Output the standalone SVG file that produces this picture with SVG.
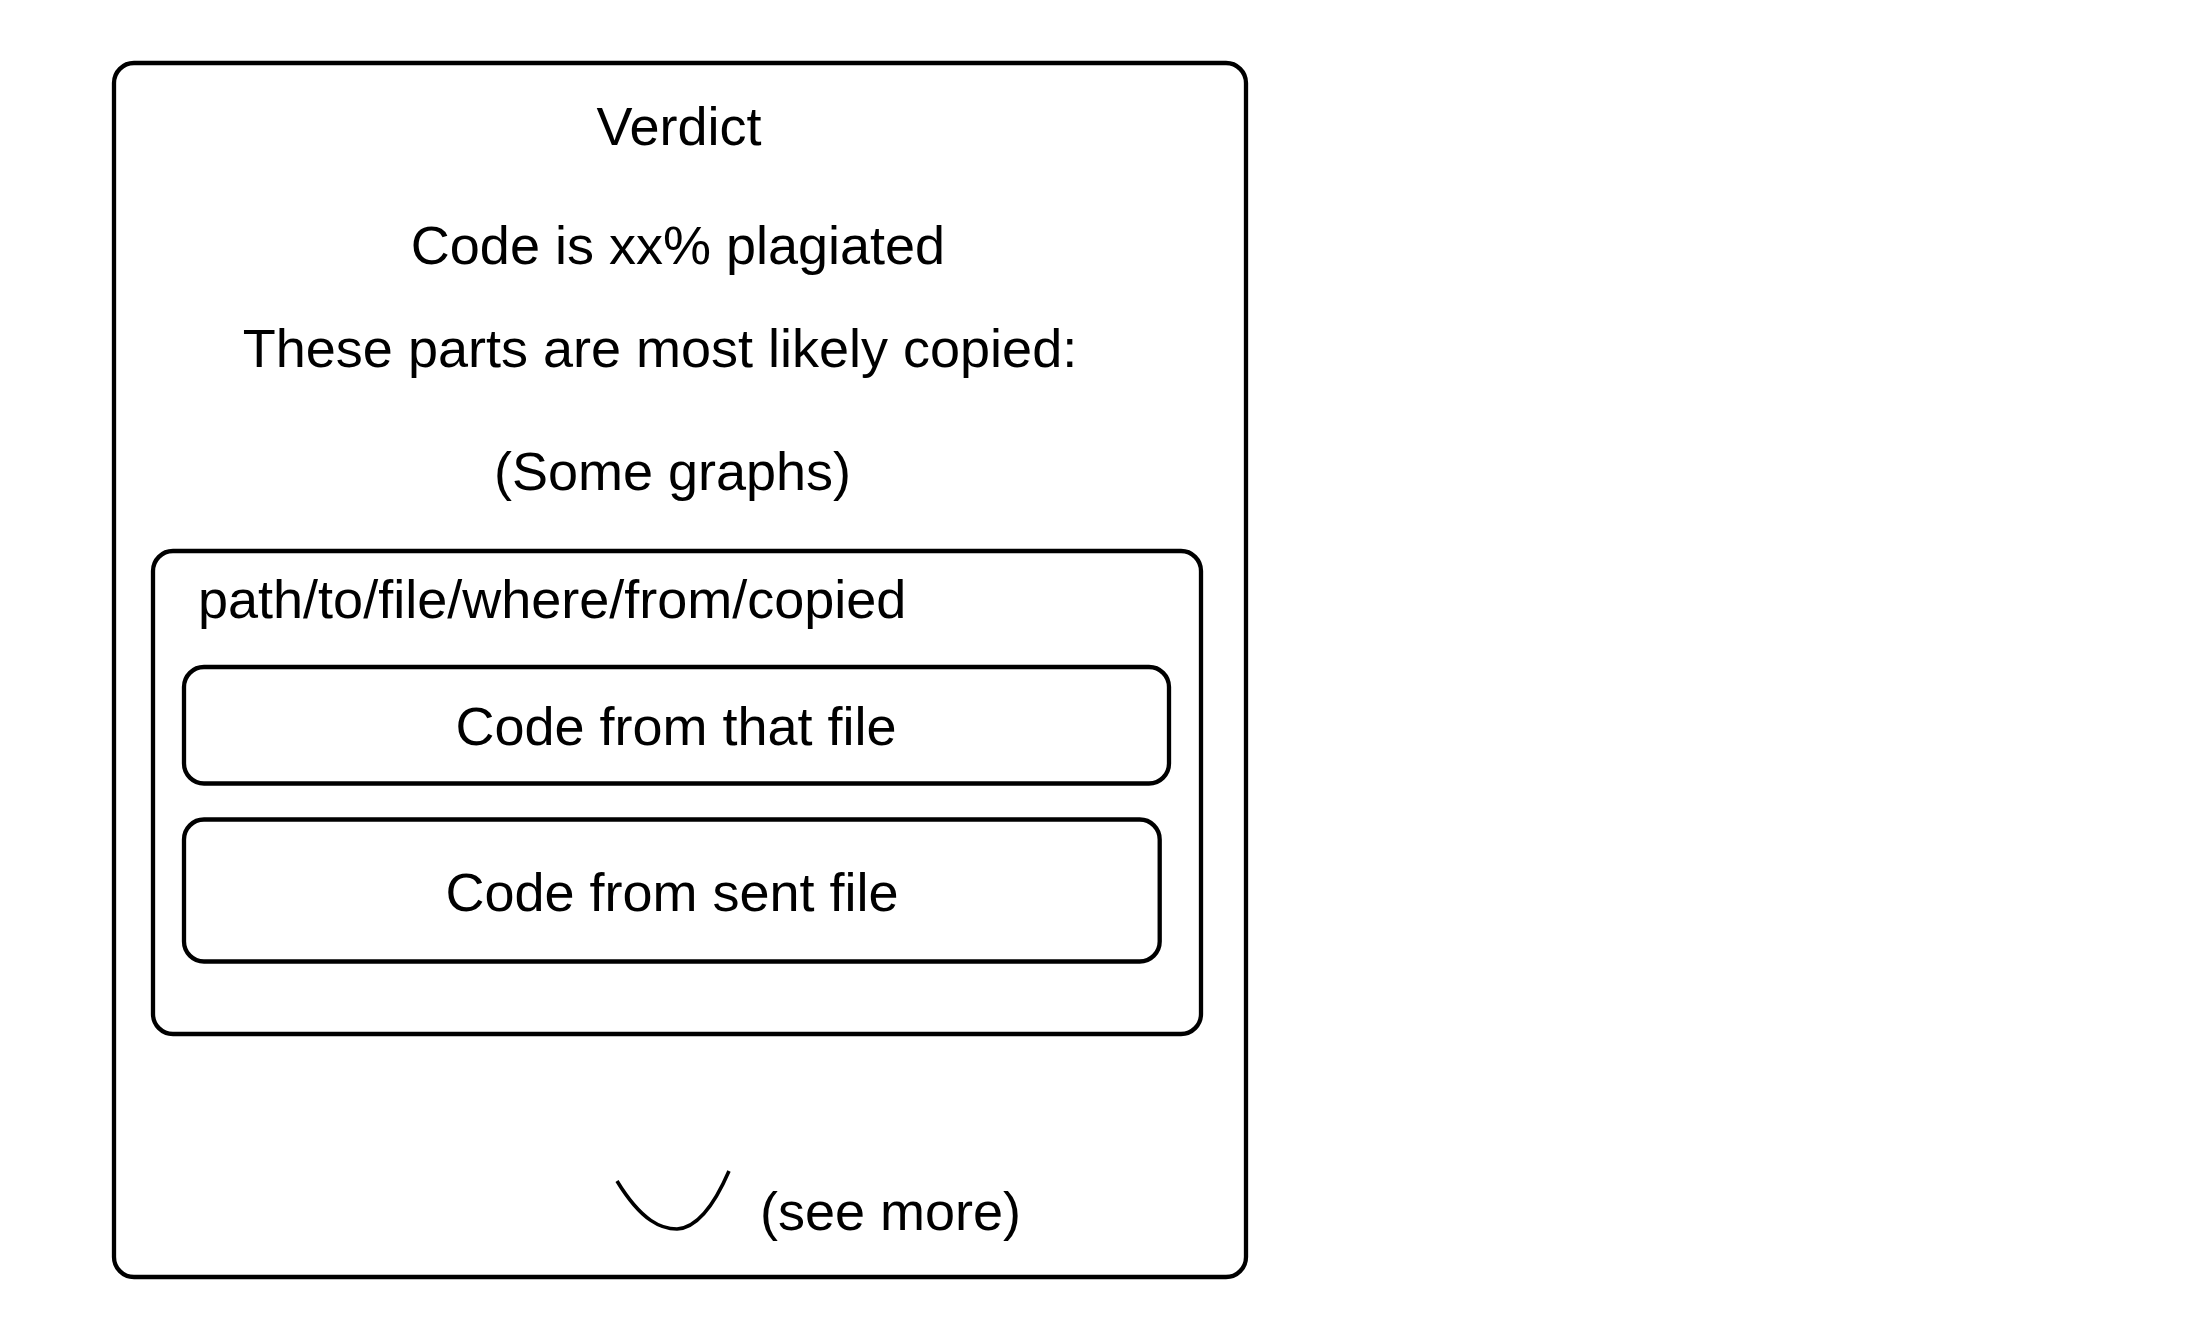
<svg xmlns="http://www.w3.org/2000/svg" width="2206" height="1338" viewBox="0 0 2206 1338">
<style>
.box{fill:#fff;stroke:#000;stroke-width:4.3}
.t{font-family:"Liberation Sans",Arial,Helvetica,sans-serif;font-size:54px;fill:#000}
.m{text-anchor:middle}
</style>
<rect width="2206" height="1338" fill="#fff"/>
<g id="verdict">
<rect class="box" x="114" y="63" width="1132" height="1214" rx="20" ry="20"/>
<text class="t m" x="679" y="145">Verdict</text>
<text class="t m" x="678" y="264">Code is xx% plagiated</text>
<text class="t m" x="660" y="367">These parts are most likely copied:</text>
<text class="t m" x="672.5" y="490">(Some graphs)</text>
</g>
<g id="file-group">
<rect class="box" x="153" y="551" width="1048" height="483" rx="20" ry="20"/>
<text class="t" x="198" y="618">path/to/file/where/from/copied</text>
</g>
<g id="code-that-file">
<rect class="box" x="184" y="667" width="985" height="116.5" rx="20" ry="20"/>
<text class="t m" x="676" y="745">Code from that file</text>
</g>
<g id="code-sent-file">
<rect class="box" x="184" y="819.5" width="975.7" height="142" rx="20" ry="20"/>
<text class="t m" x="672" y="911">Code from sent file</text>
</g>
<g id="see-more">
<path d="M617,1181 C642,1222 662,1229 677,1229 C695,1228 713,1208 729,1171" fill="none" stroke="#000" stroke-width="3.6"/>
<text class="t" x="760" y="1230">(see more)</text>
</g>
<g id="connectors"></g>
</svg>
